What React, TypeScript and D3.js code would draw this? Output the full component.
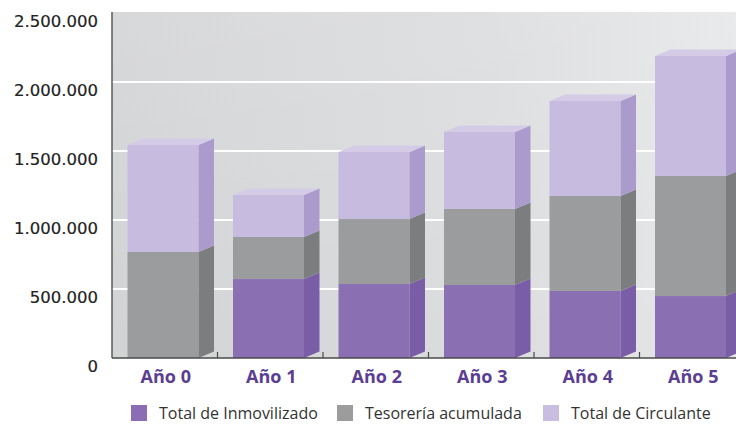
import React, { useEffect } from "react";
import * as d3 from "d3";

const categories = ["Año 0", "Año 1", "Año 2", "Año 3", "Año 4", "Año 5"];
const inmovilizado = [0, 572000, 536000, 529000, 486000, 449000];
const tesoreria = [768000, 305000, 471000, 551000, 688000, 870000];
const circulante = [775000, 304000, 486000, 558000, 688000, 869000];
const yTicks = [0, 500000, 1000000, 1500000, 2000000, 2500000];
const seriesNames = ["Total de Inmovilizado", "Tesorería acumulada", "Total de Circulante"];

const W = 736;
const H = 425;
const plotLeft = 112;
const plotTop = 12;
const plotBottom = 358;
const depthX = 15.5;
const depthY = -6.5;

const colors = [
  { front: "#8a6fb3", side: "#7a5da7", top: "#9a82bf", legend: "#8b6db5" },
  { front: "#9a9c9e", side: "#7b7d7f", top: "#adafb1", legend: "#9c9c9c" },
  { front: "#c7bcdf", side: "#ab9bcc", top: "#d4cbe7", legend: "#c9bde0" },
];

const locale = d3.formatLocale({ decimal: ",", thousands: ".", grouping: [3], currency: ["", "€"] });
const fmt = locale.format(",");

export default function App() {
  useEffect(() => {
    document.body.style.margin = "0";
  }, []);

  const x = d3.scaleBand<string>().domain(categories).range([plotLeft, plotLeft + 6 * 105.5]);
  const y = d3.scaleLinear().domain([0, 2500000]).range([plotBottom, 13]);

  const stack = d3.stack<any>().keys(["a", "b", "c"]);
  const rows = categories.map((c, i) => ({ cat: c, a: inmovilizado[i], b: tesoreria[i], c: circulante[i] }));
  const stacked = stack(rows);

  const barOffset = 15.5;
  const barW = 71;

  return (
    <svg width={W} height={H} style={{ display: "block", position: "absolute", left: 0, top: 0 }}>
      <defs>
        <linearGradient id="wall" x1="0" y1="0" x2="1" y2="0">
          <stop offset="0" stopColor="#d2d3d5" />
          <stop offset="0.6" stopColor="#dbdcde" />
          <stop offset="1" stopColor="#e6e7e8" />
        </linearGradient>
        <linearGradient id="wallV" x1="0" y1="0" x2="0" y2="1">
          <stop offset="0" stopColor="#ffffff" stopOpacity="0.12" />
          <stop offset="1" stopColor="#ffffff" stopOpacity="0" />
        </linearGradient>
      </defs>
      <rect x={0} y={0} width={W} height={H} fill="#ffffff" />
      <rect x={plotLeft} y={plotTop} width={W - plotLeft} height={plotBottom - plotTop} fill="url(#wall)" />
      <rect x={plotLeft} y={plotTop} width={W - plotLeft} height={plotBottom - plotTop} fill="url(#wallV)" />
      {/* gridlines */}
      {yTicks.slice(1, 5).map((t) => (
        <line key={t} x1={plotLeft} x2={W} y1={y(t)} y2={y(t)} stroke="#ffffff" strokeWidth={2} />
      ))}
      {/* bars */}
      {categories.map((c, i) => {
        const bx = (x(c) as number) + barOffset;
        return (
          <g key={c}>
            {stacked.map((s, k) => {
              const d = s[i];
              const y0 = y(d[0]);
              const y1 = y(d[1]);
              if (d[1] - d[0] <= 0) return null;
              const col = colors[k];
              const isTop = k === stacked.length - 1 || stacked.slice(k + 1).every((ss) => ss[i][1] - ss[i][0] <= 0);
              return (
                <g key={k}>
                  <rect x={bx} y={y1} width={barW} height={y0 - y1} fill={col.front} />
                  <path
                    d={`M${bx + barW},${y1} L${bx + barW + depthX},${y1 + depthY} L${bx + barW + depthX},${y0 + depthY} L${bx + barW},${y0} Z`}
                    fill={col.side}
                  />
                  {isTop && (
                    <path
                      d={`M${bx},${y1} L${bx + depthX},${y1 + depthY} L${bx + barW + depthX},${y1 + depthY} L${bx + barW},${y1} Z`}
                      fill={col.top}
                    />
                  )}
                </g>
              );
            })}
          </g>
        );
      })}
      {/* axes */}
      <line x1={plotLeft} x2={plotLeft} y1={plotTop} y2={plotBottom} stroke="#5a5a5a" strokeWidth={1.5} />
      <line x1={plotLeft} x2={W} y1={plotBottom} y2={plotBottom} stroke="#4a4a4a" strokeWidth={1.5} />
      {categories.slice(1).map((c) => (
        <line key={c} x1={x(c) as number} x2={x(c) as number} y1={plotBottom} y2={plotBottom - 6} stroke="#4a4a4a" strokeWidth={1.2} />
      ))}
      {/* y labels */}
      {yTicks.map((t) => (
        <text
          key={t}
          x={98}
          y={y(t) + 9}
          textAnchor="end"
          dominantBaseline="middle"
          fontFamily="DejaVu Sans"
          fontSize={16.5}
          fill="#222222"
          stroke="#222222"
          strokeWidth={0.2}
        >
          {fmt(t)}
        </text>
      ))}
      {/* x labels */}
      {categories.map((c) => (
        <text
          key={c}
          x={(x(c) as number) + x.bandwidth() / 2 + 1}
          y={383}
          textAnchor="middle"
          fontFamily="Open Sans"
          fontWeight={700}
          fontSize={18}
          fill="#5b3e91"
        >
          {c}
        </text>
      ))}
      {/* legend */}
      {seriesNames.map((n, k) => {
        const lx = [131, 337, 543][k];
        return (
          <g key={n}>
            <rect x={lx} y={405} width={16} height={16} fill={colors[k].legend} />
            <text x={lx + 28} y={419} fontFamily="Open Sans" fontSize={16} fill="#333333">
              {n}
            </text>
          </g>
        );
      })}
    </svg>
  );
}
